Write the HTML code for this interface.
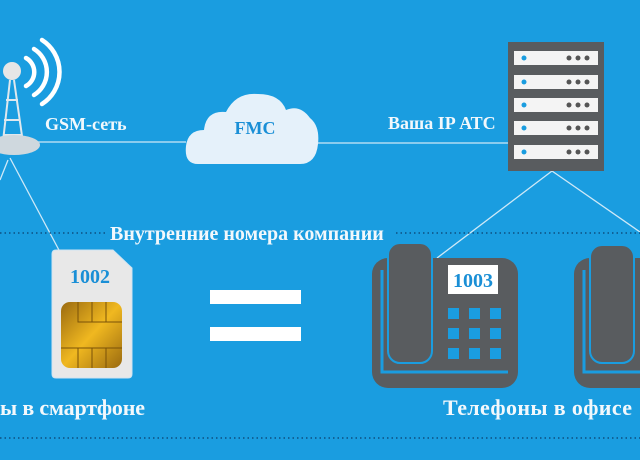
<!DOCTYPE html>
<html><head><meta charset="utf-8"><style>
html,body{margin:0;padding:0}
body{width:640px;height:460px;overflow:hidden;background:#1a9de0}
svg{display:block}
text{font-family:"Liberation Serif",serif;font-weight:bold}
</style></head><body>
<svg width="640" height="460" viewBox="0 0 640 460">
<defs>
<linearGradient id="chip" x1="0" y1="0" x2="1" y2="1">
<stop offset="0" stop-color="#9a6a10"/><stop offset="0.5" stop-color="#f0b820"/><stop offset="1" stop-color="#9a6a10"/>
</linearGradient>
</defs>
<g stroke="#cfe9f7" stroke-width="1.3" fill="none">
<line x1="38" y1="142" x2="186" y2="142"/>
<line x1="318" y1="143" x2="508" y2="143"/>
<line x1="552" y1="171" x2="437" y2="258"/>
<line x1="552" y1="171" x2="640" y2="232"/>
<line x1="10" y1="158" x2="60" y2="252"/>
<line x1="8" y1="160" x2="0" y2="180"/>
</g>
<g stroke="#0d4f80" stroke-width="1.5" stroke-dasharray="1.5 3">
<line x1="0" y1="233" x2="105" y2="233"/>
<line x1="396" y1="233" x2="640" y2="233"/>
<line x1="0" y1="438" x2="640" y2="438"/>
</g>
<!-- tower -->
<g fill="none" stroke="#dfe8ee" stroke-width="2">
<path d="M10 80 L2 150 M14 80 L24 150 M4 120 L20 120 M3 135 L22 135 M6 100 L18 100"/>
</g>
<ellipse cx="14" cy="145" rx="26" ry="10" fill="#cfd8de"/>
<circle cx="12" cy="71" r="9" fill="#e6e6e6"/>
<g fill="none" stroke="#fff" stroke-width="4.5" stroke-linecap="round">
<path d="M26 58 A16 16 0 0 1 26 86"/>
<path d="M34 49 A27 27 0 0 1 34 95"/>
<path d="M42 40 A38 38 0 0 1 42 104"/>
</g>
<text x="45" y="130" font-size="18" fill="#f2f8fc">GSM-сеть</text>
<!-- cloud -->
<path d="M198 164 Q184 164 186 146 Q188 130 204 130 Q206 110 226 112 Q236 92 258 94 Q280 94 286 110 Q300 104 310 118 Q320 126 318 144 Q316 164 300 164 Z" fill="#e5f1fa"/>
<text x="255" y="134" font-size="18" fill="#1a8fd6" text-anchor="middle">FMC</text>
<!-- server -->
<rect x="508" y="42" width="96" height="129" fill="#595c5f"/>
<g>
<rect x="514" y="51" width="84" height="14" fill="#f4f4f4"/>
<rect x="514" y="75" width="84" height="14" fill="#f4f4f4"/>
<rect x="514" y="98" width="84" height="14" fill="#f4f4f4"/>
<rect x="514" y="121" width="84" height="14" fill="#f4f4f4"/>
<rect x="514" y="145" width="84" height="14" fill="#f4f4f4"/>
</g>
<g fill="#1a9de0"><circle cx="524" cy="58" r="2.5"/><circle cx="524" cy="82" r="2.5"/><circle cx="524" cy="105" r="2.5"/><circle cx="524" cy="128" r="2.5"/><circle cx="524" cy="152" r="2.5"/></g>
<g fill="#555">
<circle cx="569" cy="58" r="2.5"/><circle cx="578" cy="58" r="2.5"/><circle cx="587" cy="58" r="2.5"/>
<circle cx="569" cy="82" r="2.5"/><circle cx="578" cy="82" r="2.5"/><circle cx="587" cy="82" r="2.5"/>
<circle cx="569" cy="105" r="2.5"/><circle cx="578" cy="105" r="2.5"/><circle cx="587" cy="105" r="2.5"/>
<circle cx="569" cy="128" r="2.5"/><circle cx="578" cy="128" r="2.5"/><circle cx="587" cy="128" r="2.5"/>
<circle cx="569" cy="152" r="2.5"/><circle cx="578" cy="152" r="2.5"/><circle cx="587" cy="152" r="2.5"/>
</g>
<text x="388" y="129" font-size="18" fill="#f2f8fc">Ваша IP АТС</text>
<text x="110" y="240" font-size="20" fill="#f2f8fc">Внутренние номера компании</text>
<!-- SIM -->
<path d="M56 250 L113 250 L132 268 L132 374 Q132 378 128 378 L56 378 Q52 378 52 374 L52 254 Q52 250 56 250 Z" fill="#e8e8e8" stroke="#cfe4f2" stroke-width="1"/>
<text x="90" y="283" font-size="20" fill="#1a8fd6" text-anchor="middle">1002</text>
<rect x="61" y="302" width="61" height="66" rx="9" fill="url(#chip)"/>
<g stroke="#7a5208" stroke-width="1" fill="none">
<path d="M78 302 V322 H122 M92 302 V322 M106 302 V322 M61 348 H122 M78 348 V368 M92 348 V368 M106 348 V368"/>
</g>
<rect x="210" y="290" width="91" height="14" fill="#fff"/>
<rect x="210" y="327" width="91" height="14" fill="#fff"/>
<!-- phone1 -->
<rect x="372" y="258" width="146" height="130" rx="16" fill="#595c5f"/>
<path d="M382 270 V372 H508" fill="none" stroke="#1a9de0" stroke-width="3"/>
<rect x="388" y="243" width="44" height="120" rx="12" fill="#595c5f" stroke="#1a9de0" stroke-width="2"/>
<rect x="448" y="265" width="50" height="29" fill="#fff"/>
<text x="473" y="287" font-size="20" fill="#1a8fd6" text-anchor="middle">1003</text>
<g fill="#1a9de0">
<rect x="448" y="308" width="11" height="11"/><rect x="469" y="308" width="11" height="11"/><rect x="490" y="308" width="11" height="11"/>
<rect x="448" y="328" width="11" height="11"/><rect x="469" y="328" width="11" height="11"/><rect x="490" y="328" width="11" height="11"/>
<rect x="448" y="348" width="11" height="11"/><rect x="469" y="348" width="11" height="11"/><rect x="490" y="348" width="11" height="11"/>
</g>
<!-- phone2 -->
<rect x="574" y="258" width="120" height="130" rx="16" fill="#595c5f"/>
<path d="M584 270 V372 H640" fill="none" stroke="#1a9de0" stroke-width="3"/>
<rect x="590" y="245" width="44" height="118" rx="12" fill="#595c5f" stroke="#1a9de0" stroke-width="2"/>
<text x="0" y="415" font-size="22" fill="#f2f8fc" textLength="145">ы в смартфоне</text>
<text x="443" y="415" font-size="22" fill="#f2f8fc" textLength="189">Телефоны в офисе</text>
</svg>
</body></html>
